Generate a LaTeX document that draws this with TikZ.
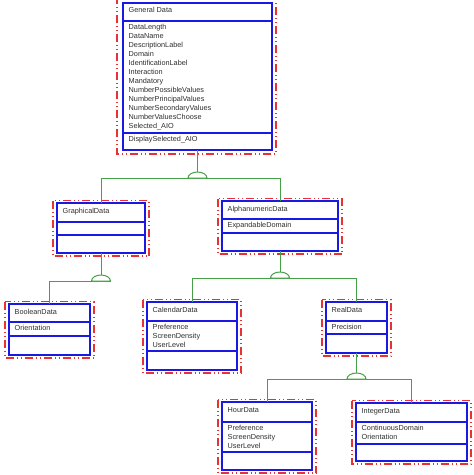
\documentclass[tikz,border=0pt]{standalone}
\usepackage{fontspec}
\setmainfont{Liberation Sans}
\usetikzlibrary{fit}
\definecolor{umlblue}{RGB}{25,25,225}
\definecolor{umlred}{RGB}{230,50,50}
\definecolor{umlgreen}{RGB}{70,160,70}
\definecolor{umltext}{RGB}{45,45,45}
\tikzset{
 bluebox/.style={draw=umlblue, line width=2pt, inner sep=0pt, outer sep=0pt},
 blueline/.style={draw=umlblue, line width=2pt},
 redbox/.style={draw=umlred, line width=1.2pt, dash pattern=on 8pt off 3pt on 1pt off 3pt on 1pt off 3pt},
 conn/.style={draw=umlgreen, line width=1pt},
 joint/.style={draw=umlgreen, line width=1pt, fill=white},
 txt/.style={anchor=north west, inner sep=0pt, font=\fontsize{7.3}{9}\selectfont, text=umltext, align=left},
}
\newcommand\umlcls[9]{%
 \draw[redbox] ({#2-4},{#3-2.5}) rectangle ({#4+4},{#5+3});
 \node[bluebox, fit={(#2,#3) (#4,#5)}] (#1) {};
 \draw[blueline] (#2,#6) -- (#4,#6);
 \draw[blueline] (#2,#7) -- (#4,#7);
 \node[txt] (#1-h) at ({#2+5.5},{#3+5}) {#8};
 \node[txt] (#1-a) at ({#2+5.5},{#6+3.5}) {#9};
}
\newcommand\joinarc[1]{%
 \filldraw[joint] ([xshift=-9.5pt]#1) arc[start angle=180, end angle=0, x radius=9.5pt, y radius=6pt] -- cycle;
}
\begin{document}
\begin{tikzpicture}[x=1pt,y=-1pt]
\useasboundingbox (0,0) rectangle (474,475);
% General Data
\draw[redbox] (117,-4) rectangle (276,154);
\node[bluebox, fit={(123,3) (272,150)}] (gd) {};
\draw[blueline] (123,21) -- (272,21);
\draw[blueline] (123,133) -- (272,133);
\node[txt] (gd-h) at (128.5,7.5) {General Data};
\node[txt] (gd-a) at (128.5,24) {DataLength\\DataName\\DescriptionLabel\\Domain\\IdentificationLabel\\Interaction\\Mandatory\\NumberPossibleValues\\NumberPrincipalValues\\NumberSecondaryValues\\NumberValuesChoose\\Selected\_AIO};
\node[txt] (gd-m) at (128.5,136.5) {DisplaySelected\_AIO};
% other classes
\umlcls{graph}{57}{203}{145}{253}{222}{235}{GraphicalData}{}
\umlcls{alpha}{222}{201}{338}{251}{219}{233}{AlphanumericData}{ExpandableDomain}
\umlcls{bool}{9}{304}{90}{355}{322}{336}{BooleanData}{Orientation}
\umlcls{cal}{147}{302}{237}{370}{321}{351}{CalendarData}{Preference\\ScreenDensity\\UserLevel}
\umlcls{real}{326}{302}{387}{353}{321}{334}{RealData}{Precision}
\umlcls{hour}{222}{402}{312}{470}{422}{452}{HourData}{Preference\\ScreenDensity\\UserLevel}
\umlcls{int}{356}{403}{467}{461}{422}{444}{IntegerData}{ContinuousDomain\\Orientation}
% junctions
\coordinate (j1) at (197.5,178);
\coordinate (j2) at (101,281);
\coordinate (j3) at (280,278);
\coordinate (j4) at (356.5,379);
% connectors
\draw[conn] (gd.south) -- (j1);
\draw[conn] (graph.north) -- (graph.north |- j1) -- (alpha.north |- j1) -- (alpha.north);
\joinarc{j1}
\draw[conn] (graph.south) -- (j2);
\draw[conn] (bool.north) -- (bool.north |- j2) -- ([xshift=9.5pt]j2);
\joinarc{j2}
\draw[conn] (alpha.south) -- (j3);
\draw[conn] (cal.north) -- (cal.north |- j3) -- (real.north |- j3) -- (real.north);
\joinarc{j3}
\draw[conn] (real.south) -- (j4);
\draw[conn] (hour.north) -- (hour.north |- j4) -- (int.north |- j4) -- (int.north);
\joinarc{j4}
\end{tikzpicture}
\end{document}
